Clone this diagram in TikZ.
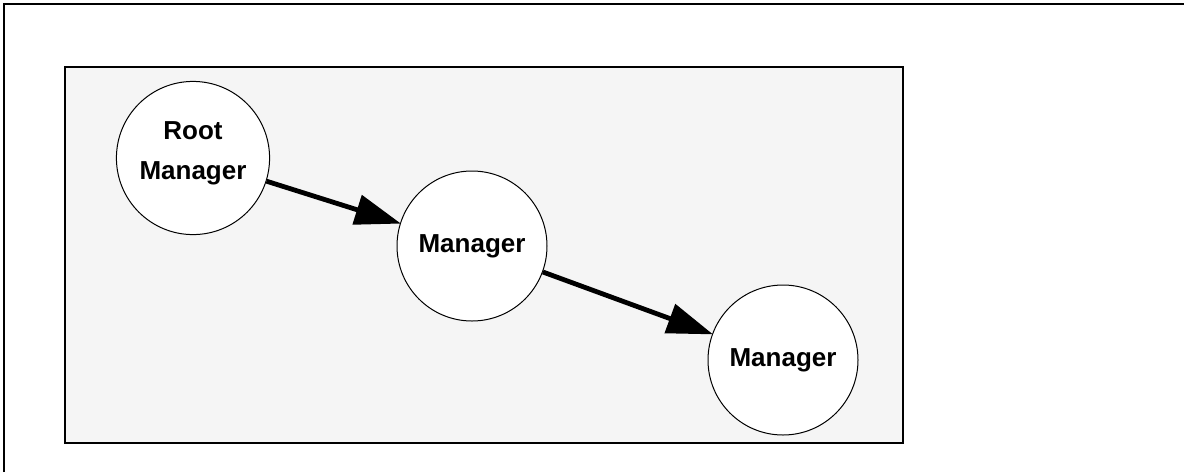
\documentclass[tikz,border=0pt]{standalone}
\usepackage{fontspec}
\setmainfont{Liberation Sans}
\usetikzlibrary{arrows.meta}
\definecolor{panelgray}{HTML}{F5F5F5}
\tikzset{
  mgr/.style={circle, draw=black, line width=0.5pt, fill=white, minimum size=75pt, inner sep=0pt,
    align=center, font=\fontsize{13pt}{20pt}\selectfont\bfseries},
  link/.style={line width=2.4pt, -{Triangle[length=23pt,width=15pt]}, shorten >=-0.5pt},
  frameline/.style={line width=1.1pt}
}
\begin{document}
\begin{tikzpicture}[x=0.5pt,y=-0.5pt]
\useasboundingbox (0,0) rectangle (1184,472);
\coordinate (ftl) at (4,4);
\coordinate (ftr) at (1184,4);
\coordinate (fbl) at (4,472);
\draw[frameline] (fbl) -- (ftl) -- (ftr);
\draw[frameline, fill=panelgray] (65,67) rectangle (903,443);
\node[mgr] (root) at (193,158) {\raisebox{2.5pt}[\height][\depth]{\parbox{70pt}{\centering Root\\Manager}}};
\node[mgr] (m1) at (472,246) {Manager};
\node[mgr] (m2) at (783,360) {Manager};
\draw[link] (root) -- (m1);
\draw[link] (m1) -- (m2);
\end{tikzpicture}
\end{document}
